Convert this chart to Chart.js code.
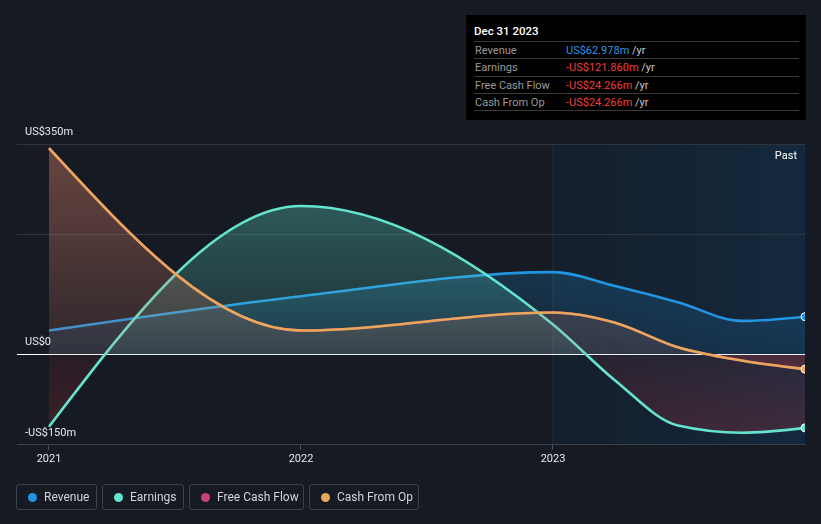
<!DOCTYPE html>
<html>
<head>
<meta charset="utf-8">
<script src="https://cdn.jsdelivr.net/npm/chart.js@4"></script>
<style>
html,body{margin:0;padding:0;background:#151a23;width:821px;height:524px;overflow:hidden;font-family:Roboto,"Noto Sans",sans-serif;}
#wrap{position:relative;width:821px;height:524px;}
#c{position:absolute;left:0;top:0;}
#tip{position:absolute;left:466px;top:15px;width:340px;height:105px;background:#000;}
#tip .title{position:absolute;left:8px;top:9px;color:#fff;font-size:11.5px;font-weight:500;line-height:14px;}
#tip .row{position:absolute;left:8px;width:325px;height:17px;border-top:1px solid #3a3a3a;font-size:11px;line-height:17px;}
#tip .last{position:absolute;left:8px;width:325px;top:95px;border-top:1px solid #3a3a3a;}
#tip .lab{position:absolute;left:1px;color:#9a9a9a;}
#tip .val{position:absolute;left:92px;white-space:nowrap;}
#tip .unit{color:#c8c8c8;}
.leg{position:absolute;top:484px;height:26px;box-sizing:border-box;border:1px solid #3b424d;border-radius:3px;color:#d2d4d8;font-size:12px;line-height:25px;}
.leg i{position:absolute;left:11px;top:8px;width:9px;height:9px;border-radius:50%;}
.leg span{position:absolute;left:27px;white-space:nowrap;}
</style>
</head>
<body>
<div id="wrap">
<canvas id="c" width="821" height="524"></canvas>
<div id="tip"></div>
<div id="legend"></div>
</div>
<script>
// ---------- data ----------
const dates        = ['2020-12-31','2021-12-31','2022-12-31','2023-03-31','2023-06-30','2023-09-30','2023-12-31'];
const revenue      = [40, 97, 137, 114, 87, 56, 62.978];
const earnings     = [-120, 247, 50, -43, -118, -130, -121.86];
const freeCashFlow = [343, 40, 70, 53, 12, -10, -24.266];
const cashFromOp   = [343, 40, 70, 53, 12, -10, -24.266];
const seriesNames  = ['Revenue','Earnings','Free Cash Flow','Cash From Op'];
const xTicks       = [2021, 2022, 2023];
const yLabels      = [350, 0, -150];
const yGrid        = [350, 200, 0];
const pastStart    = 2023;

const COLORS = {
  'Revenue':'35,148,223',
  'Earnings':'100,228,206',
  'Free Cash Flow':'197,66,122',
  'Cash From Op':'232,168,92'
};
const NEG = '229,57,60';

function decYear(s){
  const [y,m,d] = s.split('-').map(Number);
  const start = Date.UTC(y,0,1), end = Date.UTC(y+1,0,1);
  return y + (Date.UTC(y,m-1,d) - start + 86400000)/(end-start);
}
const xs = dates.map(decYear);
const toPts = arr => arr.map((v,i)=>({x:xs[i], y:v}));

function areaFill(rgb, aTop, aZero){
  return function(ctx){
    const chart = ctx.chart, area = chart.chartArea, ys = chart.scales && chart.scales.y;
    if(!area || !ys) return 'rgba('+rgb+',0.2)';
    const zero = ys.getPixelForValue(0);
    const g = chart.ctx.createLinearGradient(0, area.top, 0, area.bottom);
    let f = (zero-area.top)/(area.bottom-area.top);
    f = Math.max(0, Math.min(1, f));
    g.addColorStop(0, 'rgba('+rgb+','+aTop+')');
    g.addColorStop(f, 'rgba('+rgb+','+aZero+')');
    g.addColorStop(f, 'rgba('+NEG+',0.09)');
    g.addColorStop(1, 'rgba('+NEG+',0.22)');
    return g;
  };
}

function mkDs(name, data, order, aTop, aZero, showEnd){
  const c = COLORS[name];
  const n = data.length;
  return {
    label:name, data:toPts(data), order:order,
    borderColor:'rgb('+c+')', borderWidth:2.6,
    backgroundColor: areaFill(c, aTop, aZero),
    fill:'origin',
    cubicInterpolationMode:'monotone',
    pointRadius: ctx => (showEnd && ctx.dataIndex===n-1) ? 4 : 0,
    pointHoverRadius:0,
    pointBackgroundColor:'rgb('+c+')',
    pointBorderColor:'#ffffff', pointBorderWidth:1
  };
}

// d3-style monotoneX control points
const d3Mono = {
  id:'d3mono',
  afterDatasetsUpdate(chart){
    chart.getSortedVisibleDatasetMetas().forEach(meta=>{
      const pts = meta.data, n = pts.length; if(n<2) return;
      const X = pts.map(p=>p.x), Y = pts.map(p=>p.y), t = new Array(n).fill(0);
      for(let i=1;i<n-1;i++){
        const h0=X[i]-X[i-1], h1=X[i+1]-X[i];
        const s0=(Y[i]-Y[i-1])/h0, s1=(Y[i+1]-Y[i])/h1;
        const p=(s0*h1+s1*h0)/(h0+h1);
        t[i]=(Math.sign(s0)+Math.sign(s1))*Math.min(Math.abs(s0),Math.abs(s1),0.5*Math.abs(p))||0;
      }
      if(n===2){ t[0]=t[1]=(Y[1]-Y[0])/(X[1]-X[0]); }
      else{
        t[0]=(3*(Y[1]-Y[0])/(X[1]-X[0]) - t[1])/2;
        t[n-1]=(3*(Y[n-1]-Y[n-2])/(X[n-1]-X[n-2]) - t[n-2])/2;
      }
      for(let i=0;i<n;i++){
        const p=pts[i];
        const dp = i>0 ? (X[i]-X[i-1])/3 : 0;
        const dn = i<n-1 ? (X[i+1]-X[i])/3 : 0;
        p.cp1x=X[i]-dp; p.cp1y=Y[i]-t[i]*dp;
        p.cp2x=X[i]+dn; p.cp2y=Y[i]+t[i]*dn;
      }
      meta.dataset._pointsUpdated = true;
    });
  }
};

const decor = {
  id:'decor',
  beforeDraw(chart){
    const {ctx, chartArea:a, scales:{x,y}} = chart;
    const px = x.getPixelForValue(pastStart);
    ctx.save();
    const g = ctx.createLinearGradient(px,0,a.right,0);
    g.addColorStop(0,'rgba(20,80,130,0.10)');
    g.addColorStop(1,'rgba(20,90,150,0.24)');
    ctx.fillStyle=g;
    ctx.fillRect(px, a.top, a.right-px, a.bottom-a.top);
    ctx.fillStyle='rgba(255,255,255,0.04)';
    ctx.fillRect(px-1, a.top, 2, a.bottom-a.top);
    ctx.restore();
  },
  afterDraw(chart){
    const {ctx, chartArea:a, scales:{y}} = chart;
    ctx.save();
    ctx.font='11px Roboto, "Noto Sans", sans-serif';
    ctx.fillStyle='#e6e8eb';
    ctx.textBaseline='middle';
    ctx.textAlign='left';
    yLabels.forEach(v=>{
      const s = (v<0?'-':'')+'US$'+Math.abs(v)+(v!==0?'m':'');
      ctx.fillText(s, 25, y.getPixelForValue(v)-12);
    });
    ctx.textAlign='right';
    ctx.fillStyle='#ffffff';
    ctx.fillText('Past', a.right-8, a.top+12);
    ctx.restore();
  }
};

const datasets = [
  mkDs('Revenue', revenue, 3, 0.40, 0.10, true),
  mkDs('Earnings', earnings, 2, 0.40, 0.10, true),
  mkDs('Free Cash Flow', freeCashFlow, 1, 0.22, 0.06, false),
  mkDs('Cash From Op', cashFromOp, 0, 0.26, 0.08, true)
];

new Chart(document.getElementById('c'), {
  type:'line',
  data:{datasets},
  plugins:[d3Mono, decor],
  options:{
    responsive:false, animation:false,
    layout:{padding:{left:17, right:16, top:144, bottom:55}},
    plugins:{legend:{display:false}, tooltip:{enabled:false}},
    events:[],
    scales:{
      x:{
        type:'linear', min:2021-32/252, max:2024,
        afterBuildTicks: s => { s.ticks = xTicks.map(v=>({value:v})); },
        ticks:{color:'#e6e8eb', font:{family:'Roboto', size:11}, padding:3, callback:v=>String(v), maxRotation:0, autoSkip:false},
        grid:{drawOnChartArea:false, drawTicks:true, tickLength:5, color:'#4a525d'},
        border:{display:true, color:'#3a414c', width:1}
      },
      y:{
        type:'linear', min:-150, max:350,
        afterBuildTicks: s => { s.ticks = yGrid.map(v=>({value:v})); },
        ticks:{display:false},
        grid:{drawTicks:false, color: c => c.tick && c.tick.value===0 ? '#ffffff' : '#2e353f', lineWidth:1},
        border:{display:false}
      }
    }
  }
});

// ---------- tooltip box ----------
const MONTHS=['Jan','Feb','Mar','Apr','May','Jun','Jul','Aug','Sep','Oct','Nov','Dec'];
const lastDate = dates[dates.length-1].split('-').map(Number);
const tip = document.getElementById('tip');
function fmt(v){ return (v<0?'-':'')+'US$'+Math.abs(v).toFixed(3)+'m'; }
let html = '<div class="title">'+MONTHS[lastDate[1]-1]+' '+lastDate[2]+' '+lastDate[0]+'</div>';
const tipSeries = [revenue, earnings, freeCashFlow, cashFromOp];
seriesNames.forEach((nm,i)=>{
  const v = tipSeries[i][tipSeries[i].length-1];
  const col = v<0 ? '#f23c3c' : '#2e96e3';
  html += '<div class="row" style="top:'+(26+i*17.3)+'px"><span class="lab">'+nm+'</span><span class="val"><span style="color:'+col+'">'+fmt(v)+'</span> <span class="unit">/yr</span></span></div>';
});
html += '<div class="last"></div>';
tip.innerHTML = html;

// ---------- legend ----------
const legPos = [[16,81],[102,82],[189,115],[309,110]];
const leg = document.getElementById('legend');
seriesNames.forEach((nm,i)=>{
  const d = document.createElement('div');
  d.className='leg';
  d.style.left=legPos[i][0]+'px'; d.style.width=legPos[i][1]+'px';
  d.innerHTML='<i style="background:rgb('+COLORS[nm]+')"></i><span>'+nm+'</span>';
  leg.appendChild(d);
});
</script>
</body>
</html>
